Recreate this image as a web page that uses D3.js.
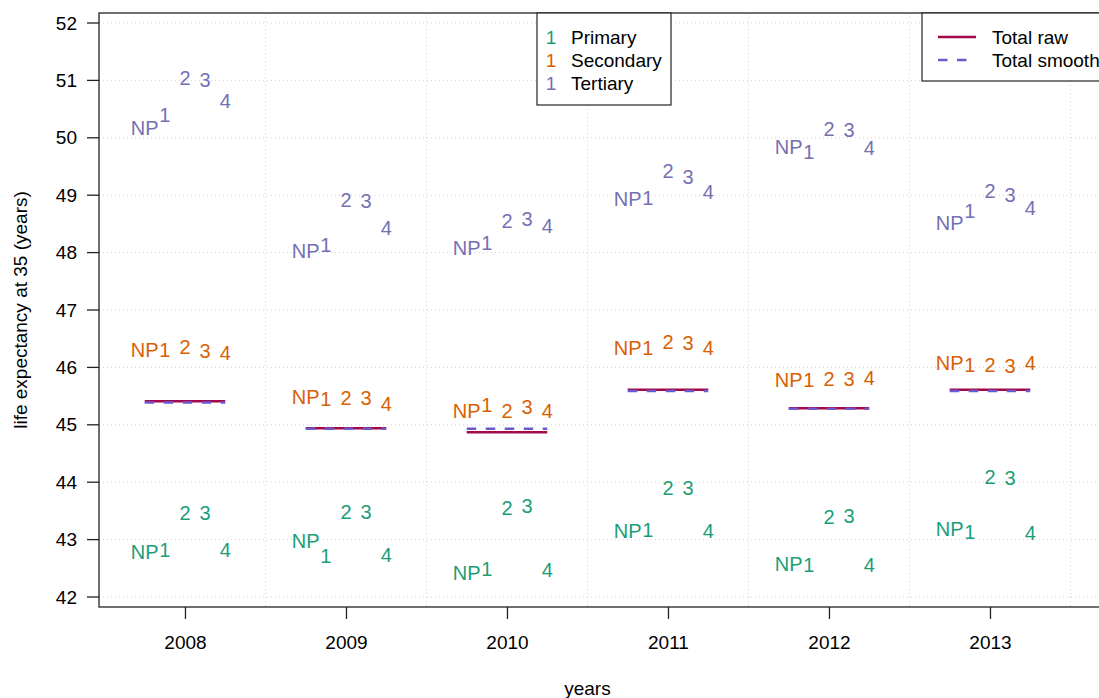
<!DOCTYPE html>
<html><head><meta charset="utf-8">
<script src="https://cdn.jsdelivr.net/npm/d3@7"></script>
<style>body{margin:0;background:#fff}svg{display:block;font-family:"Liberation Sans",Arial,sans-serif}</style>
</head><body><svg id="c" width="1099" height="698"></svg>
<script>
const years = [2008, 2009, 2010, 2011, 2012, 2013];
const groupLabels = ["NP", "1", "2", "3", "4"];
const yTicks = [42, 43, 44, 45, 46, 47, 48, 49, 50, 51, 52];
const educationNames = ["Primary", "Secondary", "Tertiary"];
const primary = [
  [42.78, 42.82, 43.46, 43.46, 42.82],
  [42.98, 42.71, 43.48, 43.48, 42.73],
  [42.42, 42.49, 43.55, 43.59, 42.47],
  [43.15, 43.17, 43.90, 43.90, 43.15],
  [42.57, 42.56, 43.39, 43.41, 42.56],
  [43.18, 43.13, 44.09, 44.07, 43.12]
];
const secondary = [
  [46.30, 46.30, 46.36, 46.29, 46.25],
  [45.48, 45.45, 45.47, 45.47, 45.36],
  [45.24, 45.35, 45.24, 45.31, 45.24],
  [46.34, 46.34, 46.44, 46.42, 46.34],
  [45.78, 45.78, 45.80, 45.80, 45.82],
  [46.08, 46.04, 46.04, 46.02, 46.08]
];
const tertiary = [
  [50.17, 50.40, 51.04, 51.01, 50.64],
  [48.03, 48.13, 48.92, 48.90, 48.43],
  [48.08, 48.17, 48.55, 48.59, 48.46],
  [48.93, 48.95, 49.42, 49.32, 49.06],
  [49.84, 49.75, 50.15, 50.14, 49.82],
  [48.52, 48.72, 49.07, 49.00, 48.78]
];
const totalRaw = [45.41, 44.94, 44.87, 45.61, 45.29, 45.61];
const totalSmooth = [45.39, 44.93, 44.93, 45.59, 45.28, 45.59];

const colors = ["#1B9E77", "#D95F02", "#7570B3"];
const rawColor = "#A3084A", smoothColor = "#6A5ACD";
const series = [primary, secondary, tertiary];

const svg = d3.select("#c");
const L = 99, T = 13, B = 607, R = 1112;
const x = d3.scaleLinear().domain([2007.466, 2007.466 + (R - L) / 161]).range([L, R]);
const y = d3.scaleLinear().domain([42, 52]).range([597, 23]);
const offs = d3.scaleLinear().domain([0, 4]).range([-0.25, 0.25]);
const fs = 19, lfs = 20;

// grid
const g = svg.append("g").attr("stroke", "#D3D3D3").attr("stroke-dasharray", "1,3");
yTicks.forEach(v => g.append("line").attr("x1", L).attr("x2", R).attr("y1", y(v)).attr("y2", y(v)));
years.forEach(v => g.append("line").attr("x1", x(v + 0.5)).attr("x2", x(v + 0.5)).attr("y1", T).attr("y2", B));

// labels
series.forEach((s, si) => {
  s.forEach((row, yi) => {
    row.forEach((v, li) => {
      svg.append("text").attr("x", x(years[yi] + offs(li))).attr("y", y(v)).attr("dy", "0.35em")
        .attr("text-anchor", "middle").attr("font-size", lfs).attr("fill", colors[si]).text(groupLabels[li]);
    });
  });
});

// totals
years.forEach((yr, i) => {
  svg.append("line").attr("x1", x(yr - 0.25)).attr("x2", x(yr + 0.25)).attr("y1", y(totalRaw[i])).attr("y2", y(totalRaw[i]))
    .attr("stroke", rawColor).attr("stroke-width", 2.5);
  svg.append("line").attr("x1", x(yr - 0.25)).attr("x2", x(yr + 0.25)).attr("y1", y(totalSmooth[i])).attr("y2", y(totalSmooth[i]))
    .attr("stroke", smoothColor).attr("stroke-width", 2.5).attr("stroke-dasharray", "9.5,9.5");
});

// box
svg.append("rect").attr("x", L).attr("y", T).attr("width", R - L).attr("height", B - T)
  .attr("fill", "none").attr("stroke", "#222").attr("stroke-width", 1.3);

// axes
const ya = svg.append("g").attr("transform", `translate(${L - 12},0)`)
  .call(d3.axisLeft(y).tickValues(yTicks).tickSize(0).tickPadding(10).tickFormat(d3.format("d")));
ya.select(".domain").remove();
ya.selectAll("text").attr("font-size", fs).attr("fill", "#000").attr("font-family", "Liberation Sans, Arial, sans-serif");
const yt = svg.append("g").attr("stroke", "#222").attr("stroke-width", 1.3);
yTicks.forEach(v => yt.append("line").attr("x1", L - 12).attr("x2", L).attr("y1", y(v)).attr("y2", y(v)));

const xa = svg.append("g").attr("transform", `translate(0,${B})`)
  .call(d3.axisBottom(x).tickValues(years).tickSize(12).tickPadding(17).tickFormat(d3.format("d")));
xa.select(".domain").remove();
xa.selectAll("line").attr("stroke", "#222").attr("stroke-width", 1.3);
xa.selectAll("text").attr("font-size", fs).attr("fill", "#000").attr("font-family", "Liberation Sans, Arial, sans-serif");

svg.append("text").attr("x", x(2010.5)).attr("y", 688).attr("dy", "0.35em").attr("text-anchor", "middle")
  .attr("font-size", fs).text("years");
svg.append("text").attr("transform", `translate(20,${(T + B) / 2}) rotate(-90)`).attr("dy", "0.35em")
  .attr("text-anchor", "middle").attr("font-size", fs).text("life expectancy at 35 (years)");

// legend 1
svg.append("rect").attr("x", 537).attr("y", T).attr("width", 134).attr("height", 92)
  .attr("fill", "#fff").attr("stroke", "#222").attr("stroke-width", 1.2);
educationNames.forEach((n, i) => {
  svg.append("text").attr("x", 551).attr("y", 37 + i * 23).attr("dy", "0.35em").attr("text-anchor", "middle")
    .attr("font-size", fs).attr("fill", colors[i]).text("1");
  svg.append("text").attr("x", 571).attr("y", 37 + i * 23).attr("dy", "0.35em")
    .attr("font-size", fs).attr("fill", "#000").text(n);
});

// legend 2
svg.append("rect").attr("x", 922).attr("y", T).attr("width", R - 922).attr("height", 68)
  .attr("fill", "#fff").attr("stroke", "#222").attr("stroke-width", 1.2);
svg.append("line").attr("x1", 938).attr("x2", 976).attr("y1", 37).attr("y2", 37).attr("stroke", rawColor).attr("stroke-width", 2.5);
svg.append("line").attr("x1", 938).attr("x2", 976).attr("y1", 60).attr("y2", 60).attr("stroke", smoothColor).attr("stroke-width", 2.5).attr("stroke-dasharray", "9.5,9.5");
["Total raw", "Total smooth"].forEach((t, i) => {
  svg.append("text").attr("x", 992).attr("y", 37 + i * 23).attr("dy", "0.35em").attr("font-size", fs).attr("fill", "#000").text(t);
});
</script></body></html>
